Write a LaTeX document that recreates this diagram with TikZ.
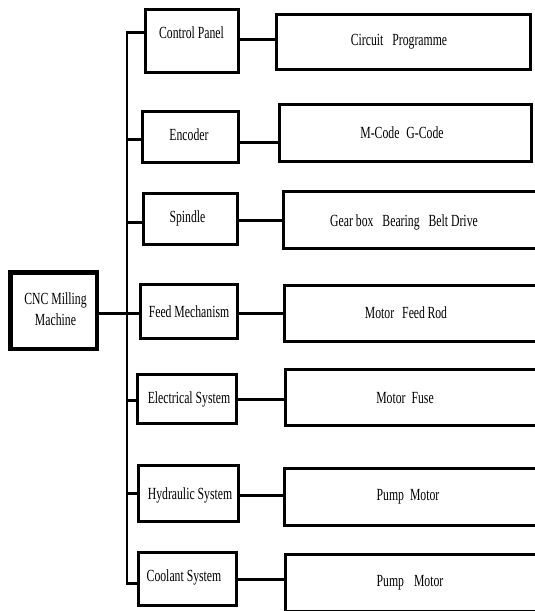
\documentclass[tikz,border=0pt]{standalone}
\usepackage{fontspec}
\setmainfont{Liberation Serif}[FakeStretch=0.69]
\begin{document}
\begin{tikzpicture}[x=1pt,y=-1pt,
  box/.style={draw=black,line width=3pt,fill=white,inner sep=0pt,outer sep=0pt},
  bigbox/.style={draw=black,line width=4.5pt,fill=white,inner sep=0pt,outer sep=0pt},
  lbl/.style={inner sep=0pt,font=\fontsize{17}{21}\selectfont,align=center},
  conn/.style={draw=black,line width=3pt},
  trunkline/.style={draw=black,line width=2.5pt}]
\clip (0,0) rectangle (535,611);
\fill[white] (0,0) rectangle (535,611);
% left column
\node[bigbox,minimum width=86.5pt,minimum height=76.5pt] (cnc) at (53.5,310.5) {};
% sub-systems
\node[box,minimum width=93pt,minimum height=63pt] (cp) at (192,41) {};
\node[box,minimum width=96pt,minimum height=51pt] (enc) at (190.5,137) {};
\node[box,minimum width=94pt,minimum height=51pt] (sp) at (190.5,219) {};
\node[box,minimum width=97pt,minimum height=54pt] (fm) at (189,311.5) {};
\node[box,minimum width=99pt,minimum height=49pt] (el) at (187,399) {};
\node[box,minimum width=100pt,minimum height=56pt] (hy) at (188.5,493.5) {};
\node[box,minimum width=98pt,minimum height=53pt] (co) at (187.5,579) {};
% components
\node[box,minimum width=254pt,minimum height=55pt] (cir) at (403.5,42) {};
\node[box,minimum width=252pt,minimum height=57pt] (mc) at (405.5,133) {};
\node[box,minimum width=261.5pt,minimum height=57pt] (gb) at (414.25,220) {};
\node[box,minimum width=260.5pt,minimum height=56pt] (mf) at (414.75,313.5) {};
\node[box,minimum width=259.5pt,minimum height=56pt] (fu) at (415.25,397.5) {};
\node[box,minimum width=260.5pt,minimum height=57pt] (pm) at (414.75,497) {};
\node[box,minimum width=259.5pt,minimum height=56.5pt] (pm2) at (415.25,582.75) {};
% labels
\node[lbl] (cnct) at (55.5,309) {CNC Milling\\Machine};
\node[lbl] (cpt) at (191.5,33) {Control Panel};
\node[lbl] (enct) at (189,135) {Encoder};
\node[lbl] (spt) at (187.5,218) {Spindle};
\node[lbl] (fmt) at (189,312) {Feed Mechanism};
\node[lbl] (elt) at (189,399) {Electrical System};
\node[lbl] (hyt) at (190,495) {Hydraulic System};
\node[lbl] (cot) at (184,577) {Coolant System};
\node[lbl] (cirt) at (399,42) {Circuit\hspace{9pt}Programme};
\node[lbl] (mct) at (402,133) {M-Code\hspace{7pt}G-Code};
\node[lbl] (gbt) at (404,222) {Gear box\hspace{9pt}Bearing\hspace{9pt}Belt Drive};
\node[lbl] (mft) at (406,313) {Motor\hspace{8pt}Feed\hspace{2.5pt}Rod};
\node[lbl] (fut) at (405,398) {Motor\hspace{6pt}Fuse};
\node[lbl] (pmt) at (408,497) {Pump\hspace{6pt}Motor};
\node[lbl] (pm2t) at (410,583) {Pump\hspace{10pt}Motor};
% trunk
\coordinate (ttop) at (127,31);
\coordinate (tbot) at (127,585);
\draw[trunkline] (ttop) -- (tbot);
\coordinate (r1) at (127,32);
\coordinate (r2) at (127,139);
\coordinate (r3) at (127,222);
\coordinate (r4) at (127,313);
\coordinate (r5) at (127,400);
\coordinate (r6) at (127,493);
\coordinate (r7) at (127,583);
\draw[conn] (r1) -- (cp.west |- r1);
\draw[conn] (r2) -- (enc.west |- r2);
\draw[conn] (r3) -- (sp.west |- r3);
\draw[conn] (cnc.east |- r4) -- (fm.west |- r4);
\draw[conn] (r5) -- (el.west |- r5);
\draw[conn] (r6) -- (hy.west |- r6);
\draw[conn] (r7) -- (co.west |- r7);
% right connectors
\coordinate (s1) at (0,39);
\coordinate (s2) at (0,142);
\coordinate (s3) at (0,220);
\coordinate (s4) at (0,313);
\coordinate (s5) at (0,399);
\coordinate (s6) at (0,495);
\coordinate (s7) at (0,579);
\draw[conn] (cp.east |- s1) -- (cir.west |- s1);
\draw[conn] (enc.east |- s2) -- (mc.west |- s2);
\draw[conn] (sp.east |- s3) -- (gb.west |- s3);
\draw[conn] (fm.east |- s4) -- (mf.west |- s4);
\draw[conn] (el.east |- s5) -- (fu.west |- s5);
\draw[conn] (hy.east |- s6) -- (pm.west |- s6);
\draw[conn] (co.east |- s7) -- (pm2.west |- s7);
\end{tikzpicture}
\end{document}
